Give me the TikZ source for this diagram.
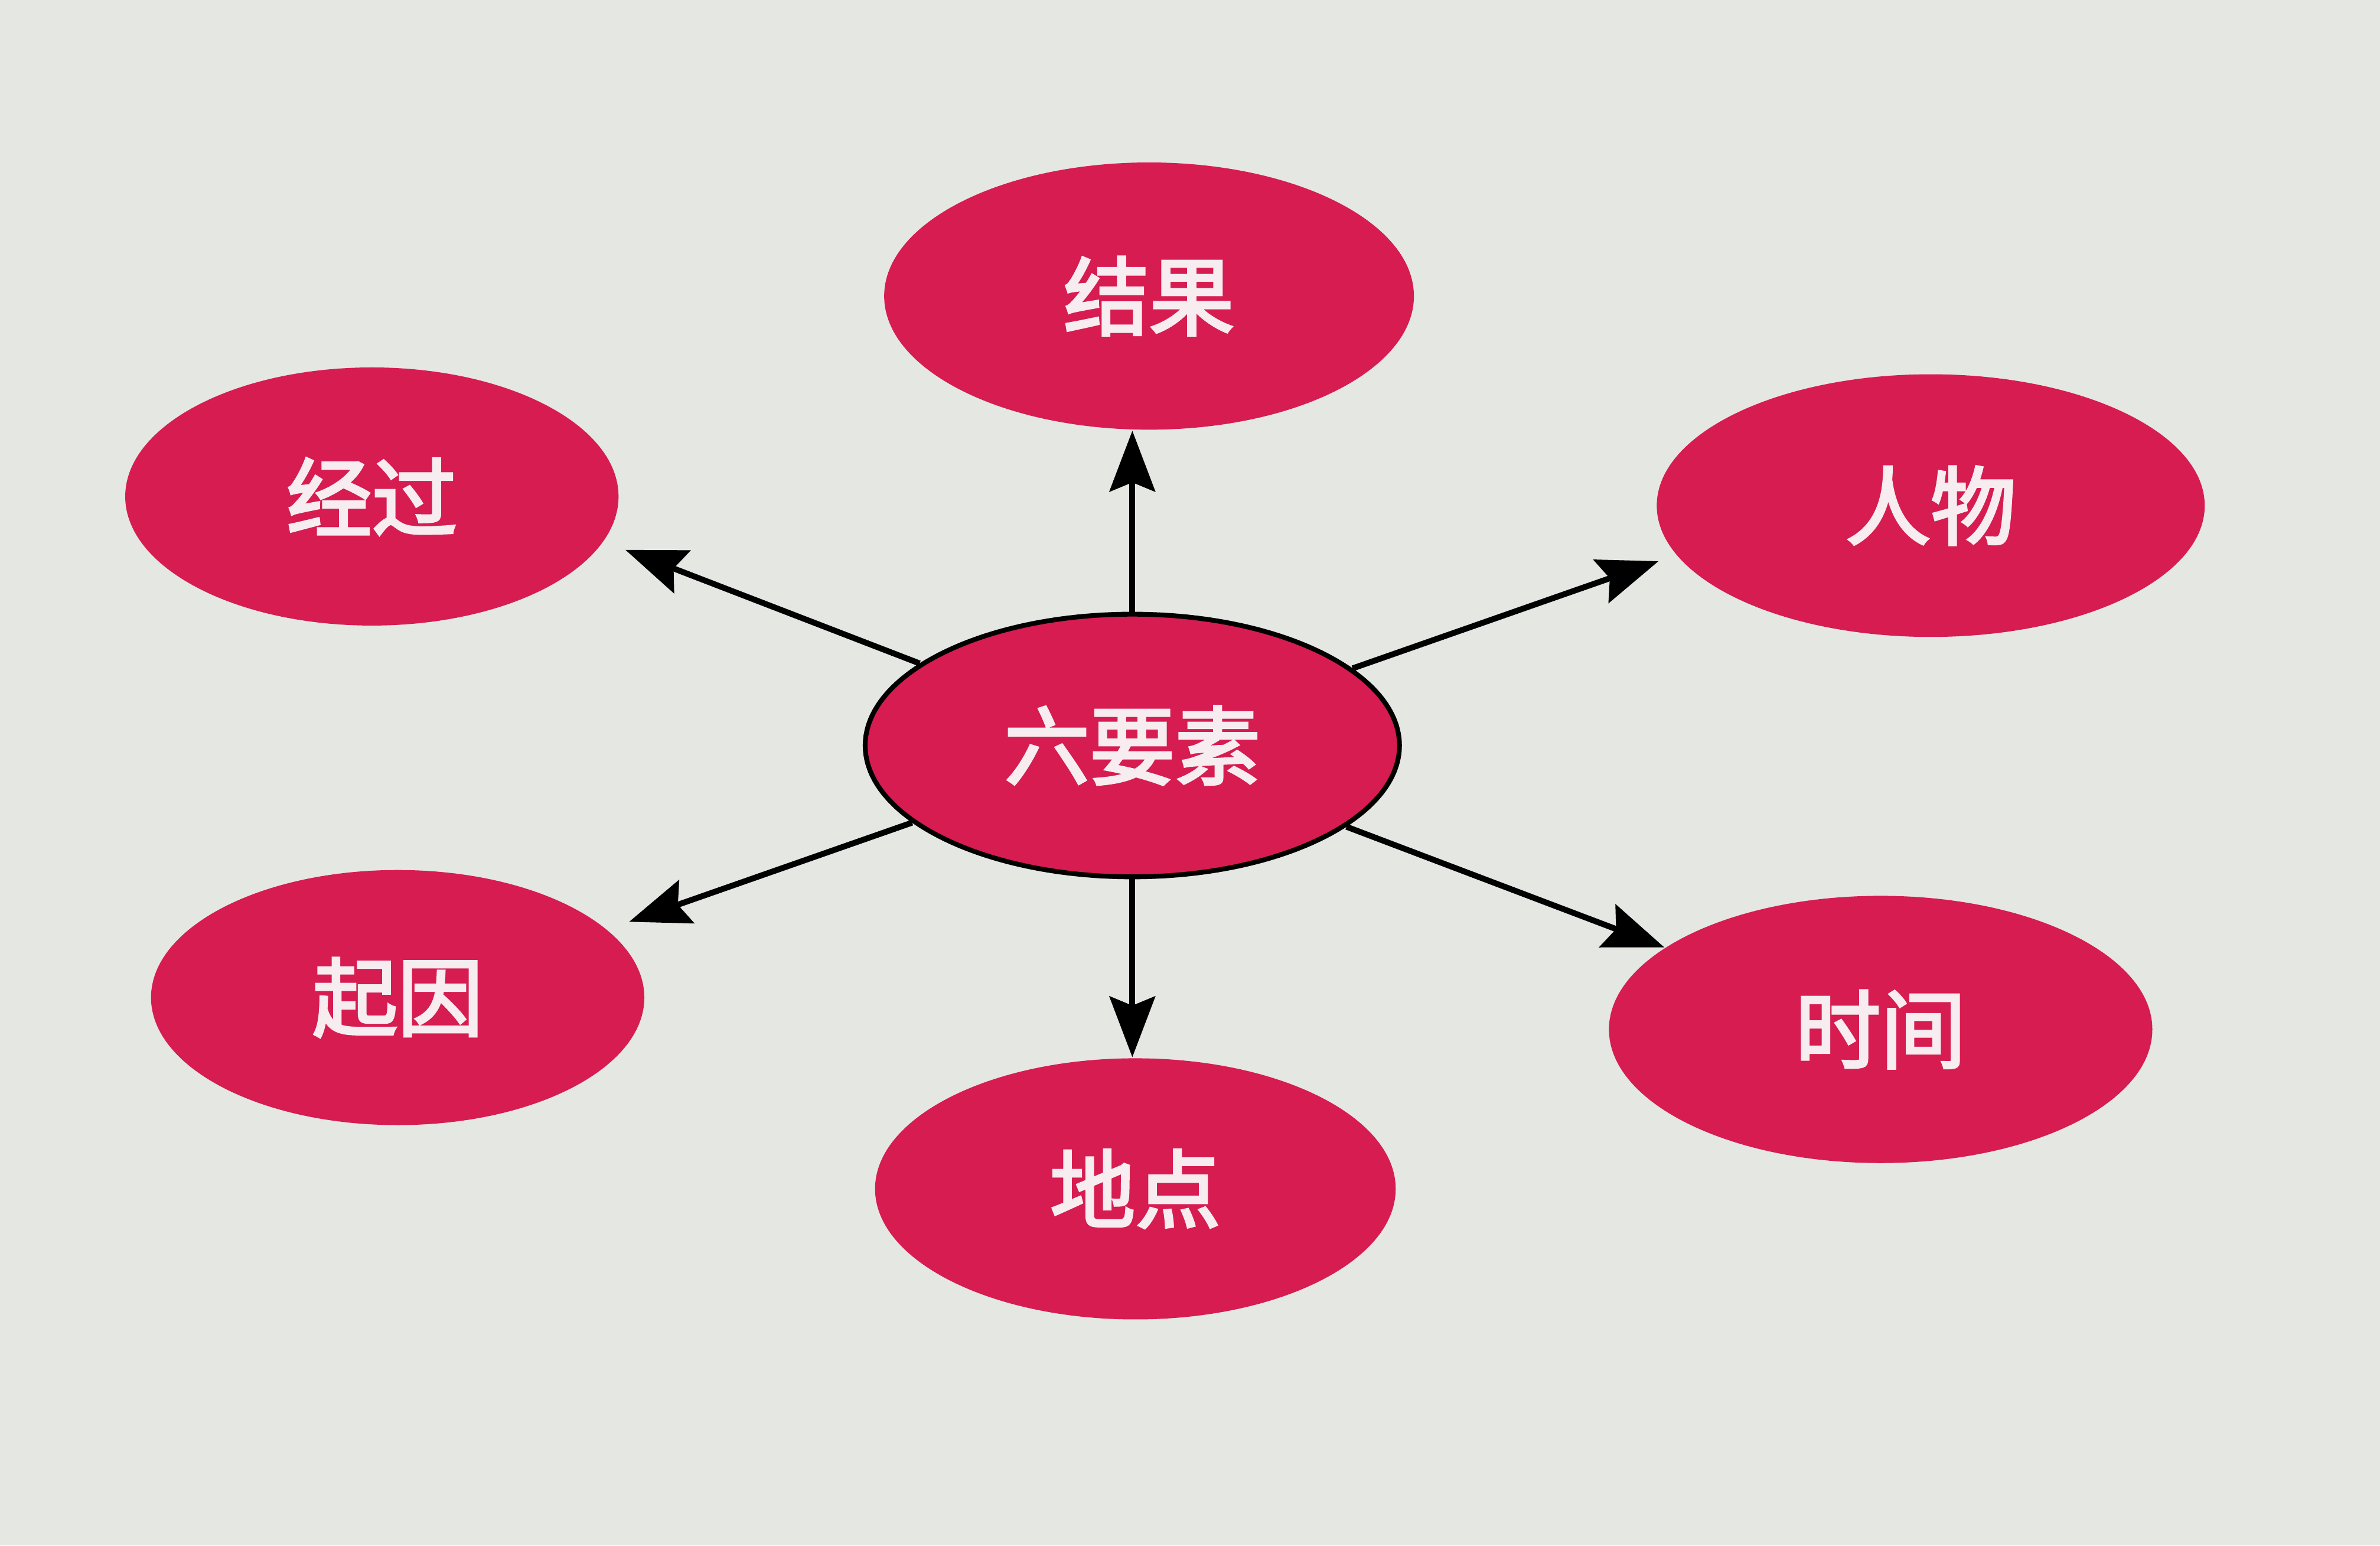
\documentclass[tikz,border=0pt]{standalone}
\usepackage{fontspec}
\newfontfamily\cjk[FakeBold=3]{Noto Sans CJK SC}
\usetikzlibrary{shapes.geometric, arrows.meta}
\definecolor{paper}{HTML}{E5E7E2}
\definecolor{rosered}{HTML}{D61C50}
\definecolor{petal}{HTML}{F7ECEF}
\begin{document}
\begin{tikzpicture}[
	elem/.style={ellipse, fill=rosered, text=petal, inner sep=0pt, font=\cjk\fontsize{16}{16}\selectfont},
	link/.style={-{Stealth[length=0.4cm, width=0.3cm, inset=0.06cm]}, line width=1.1pt}
]
	% paper background
	\fill[paper] (0, 0) rectangle (15.68, 10.18);

	% the centre and the six elements
	\node[elem, draw=black, line width=0.9pt, minimum width=3.52cm, minimum height=1.73cm] (liu) at (7.46, 5.27) {六要素};
	\node[elem, minimum width=3.49cm, minimum height=1.76cm] (jieguo) at (7.57, 8.23) {结果};
	\node[elem, minimum width=3.25cm, minimum height=1.70cm] (jingguo) at (2.45, 6.91) {经过};
	\node[elem, minimum width=3.61cm, minimum height=1.73cm] (renwu) at (12.72, 6.85) {人物};
	\node[elem, minimum width=3.25cm, minimum height=1.68cm] (qiyin) at (2.62, 3.61) {起因};
	\node[elem, minimum width=3.43cm, minimum height=1.72cm] (didian) at (7.48, 2.35) {地点};
	\node[elem, minimum width=3.58cm, minimum height=1.76cm] (shijian) at (12.39, 3.40) {时间};

	% arrows out of the centre
	\draw[link] (liu.north) -- (liu.north |- jieguo.south);
	\draw[link] (liu.south) -- (liu.south |- didian.north);
	\draw[link, shorten >=0.15cm] (liu) -- (jingguo.-11);
	\draw[link, shorten >=0.15cm] (liu) -- (qiyin.18);
	\draw[link, shorten >=0.12cm] (liu) -- (renwu.191);
	\draw[link] (liu) -- (shijian);
\end{tikzpicture}
\end{document}
